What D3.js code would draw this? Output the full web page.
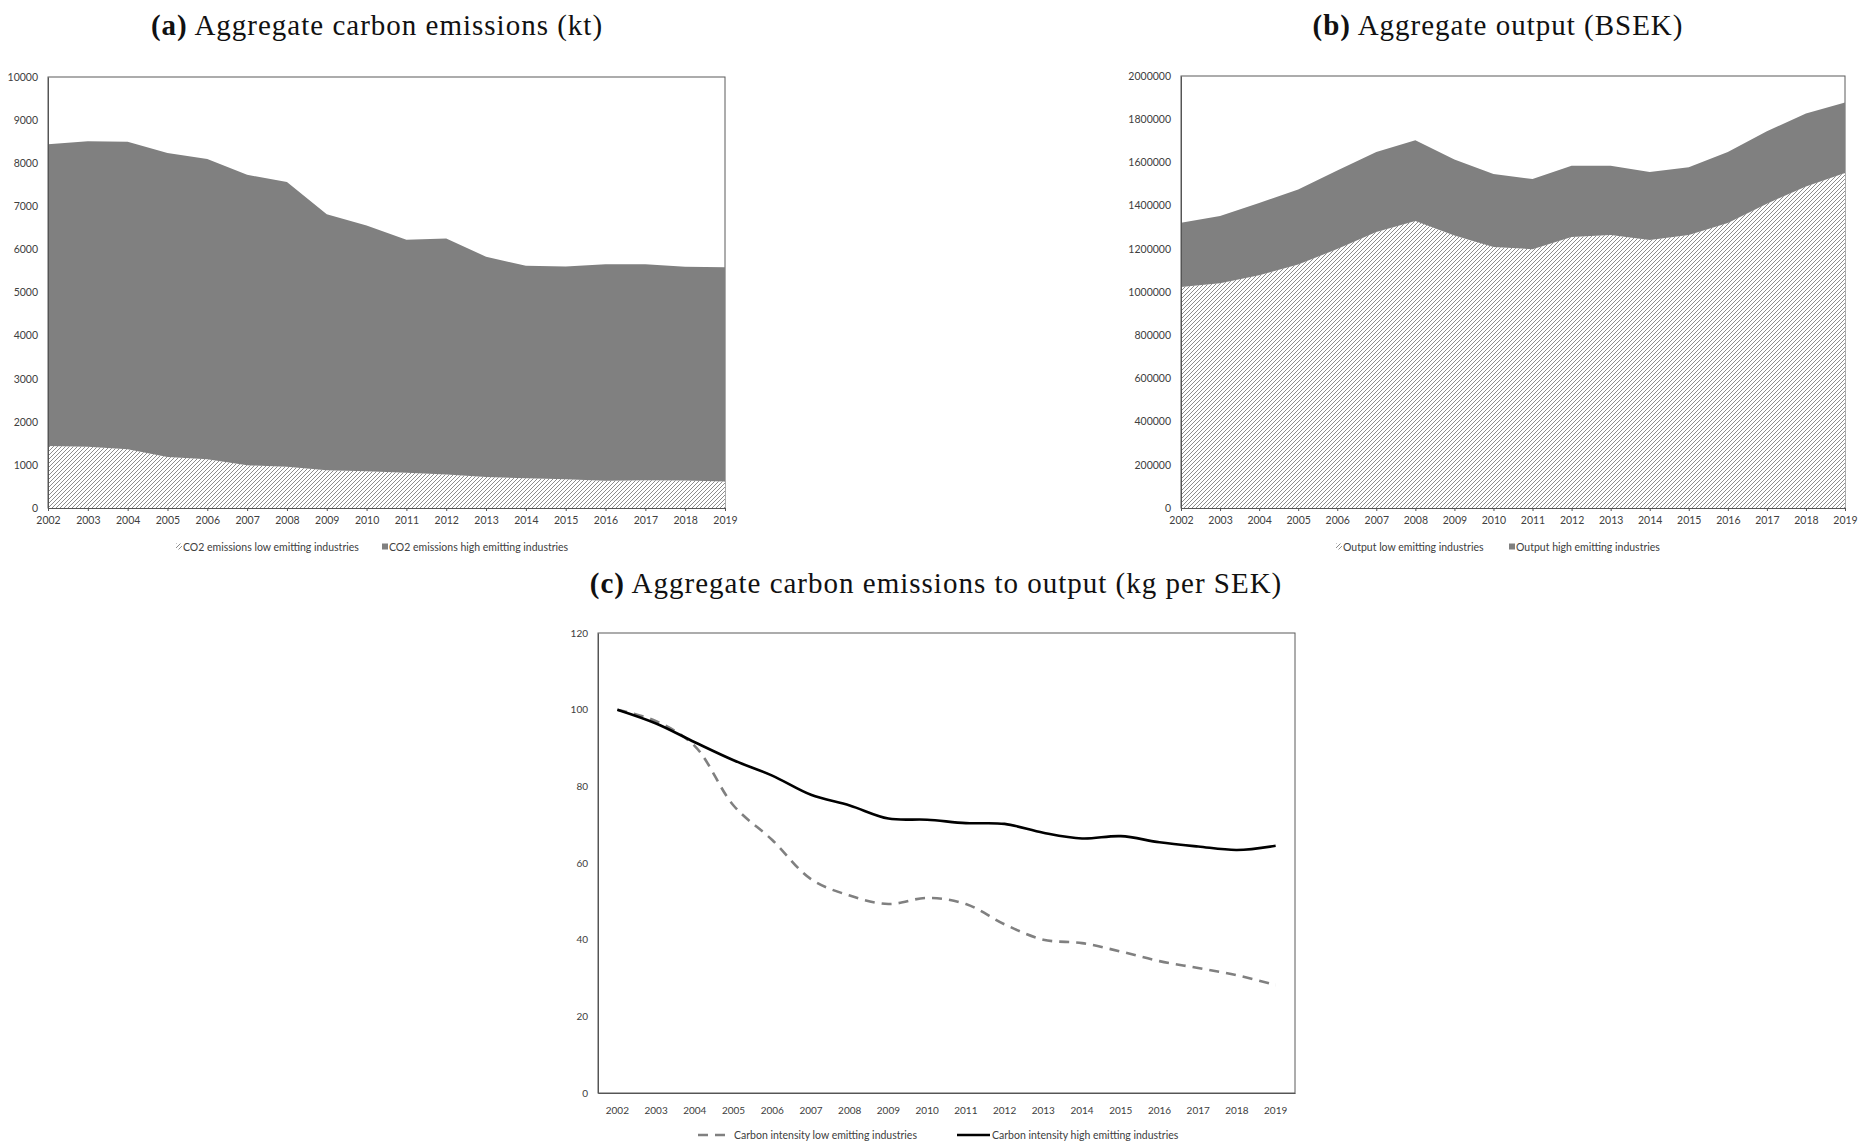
<!DOCTYPE html>
<html>
<head>
<meta charset="utf-8">
<script src="https://cdn.jsdelivr.net/npm/d3@7"></script>
<style>
  body { margin: 0; background: #fff; }
  .tick text { font-family: Lato, "Open Sans", sans-serif; fill: #404040; }
  .title { font-family: "Liberation Serif", serif; fill: #111; }
  .legend { font-family: Lato, "Open Sans", sans-serif; font-size: 10.5px; fill: #404040; }
</style>
</head>
<body>
<svg id="fig" width="1865" height="1145"></svg>
<script>
// years shared by all three panels
const years = [2002, 2003, 2004, 2005, 2006, 2007, 2008, 2009, 2010,
               2011, 2012, 2013, 2014, 2015, 2016, 2017, 2018, 2019];

// (a) CO2 emissions, kt
const co2Low  = [1440, 1420, 1365, 1185, 1130, 990, 955, 875, 855, 815, 775, 720, 690, 665, 635, 645, 640, 615];
const co2High = [7000, 7090, 7130, 7050, 6970, 6740, 6610, 5940, 5700, 5410, 5480, 5110, 4930, 4940, 5020, 5010, 4960, 4970];
const co2Ticks = [0, 1000, 2000, 3000, 4000, 5000, 6000, 7000, 8000, 9000, 10000];

// (b) output, BSEK
const outLow  = [1023000, 1040000, 1077000, 1127000, 1199000, 1278000, 1329000, 1262000, 1208000,
                 1198000, 1255000, 1264000, 1241000, 1264000, 1319000, 1409000, 1489000, 1551000];
const outHigh = [298000, 312000, 335000, 347000, 364000, 370000, 373000, 351000, 338000,
                 325000, 330000, 321000, 315000, 313000, 329000, 335000, 337000, 326000];
const outTicks = [0, 200000, 400000, 600000, 800000, 1000000, 1200000, 1400000, 1600000, 1800000, 2000000];

// (c) carbon intensity index
const intLow  = [100, 97.0, 90.5, 75.0, 66.0, 55.8, 51.5, 49.3, 50.9, 49.3, 44.0, 40.0, 39.1, 36.9, 34.4, 32.6, 30.7, 28.2];
const intHigh = [100, 96.4, 91.5, 86.8, 82.8, 77.8, 75.0, 71.6, 71.3, 70.4, 70.2, 67.9, 66.4, 67.0, 65.4, 64.3, 63.4, 64.5];
const intTicks = [0, 20, 40, 60, 80, 100, 120];

const svg = d3.select("#fig");

// hatch pattern for the low emitting series
const defs = svg.append("defs");
const pat = defs.append("pattern")
    .attr("id", "hatch")
    .attr("patternUnits", "userSpaceOnUse")
    .attr("width", 4).attr("height", 4);
pat.append("rect").attr("width", 4).attr("height", 4).attr("fill", "#fff");
pat.append("path")
    .attr("d", "M-1,1 l2,-2 M0,4 l4,-4 M3,5 l2,-2")
    .attr("stroke", "#707070").attr("stroke-width", 0.8);

function title(x, y, letter, text) {
  const t = svg.append("text").attr("class", "title")
      .attr("x", x).attr("y", y)
      .attr("text-anchor", "middle")
      .style("font-size", "29px")
      .style("letter-spacing", "1px");
  t.append("tspan").attr("font-weight", "bold").text("(" + letter + ")");
  t.append("tspan").text(" " + text);
}

function stackedPanel(box, low, high, ticks, yMax, legendNames, legendX) {
  const x = d3.scalePoint().domain(years).range([box.left, box.right]);
  const y = d3.scaleLinear().domain([0, yMax]).range([box.bottom, box.top]);

  const rows = years.map((yr, i) => ({ year: yr, low: low[i], high: high[i] }));
  const series = d3.stack().keys(["low", "high"])(rows);

  const area = d3.area()
      .x(d => x(d.data.year))
      .y0(d => y(d[0]))
      .y1(d => y(d[1]));

  const g = svg.append("g");

  g.append("rect")
      .attr("x", box.left).attr("y", box.top)
      .attr("width", box.right - box.left).attr("height", box.bottom - box.top)
      .attr("fill", "none").attr("stroke", "#5a5a5a").attr("stroke-width", 1);

  g.selectAll("path.area").data(series).enter()
      .append("path")
      .attr("class", "area")
      .attr("d", area)
      .attr("fill", (d, i) => i === 0 ? "url(#hatch)" : "#808080");

  g.append("g")
      .attr("transform", `translate(0,${box.bottom})`)
      .call(d3.axisBottom(x).tickSize(3).tickPadding(6))
      .call(a => a.selectAll("line, path").attr("stroke", "#555"))
      .call(a => a.selectAll("text").style("font-size", "10.5px"));

  g.append("g")
      .attr("transform", `translate(${box.left},0)`)
      .call(d3.axisLeft(y).tickValues(ticks).tickSize(0).tickPadding(10).tickFormat(d3.format("d")))
      .call(a => a.select(".domain").attr("stroke", "#555"))
      .call(a => a.selectAll("text").style("font-size", "10.5px"));

  // legend
  const ly = 547;
  g.append("rect").attr("x", legendX[0]).attr("y", ly - 3.5).attr("width", 6).attr("height", 6)
      .attr("fill", "url(#hatch)");
  g.append("text").attr("class", "legend").attr("x", legendX[0] + 7).attr("y", ly)
      .attr("dy", "0.35em").text(legendNames[0]);
  g.append("rect").attr("x", legendX[1]).attr("y", ly - 3.5).attr("width", 6).attr("height", 6)
      .attr("fill", "#808080");
  g.append("text").attr("class", "legend").attr("x", legendX[1] + 7).attr("y", ly)
      .attr("dy", "0.35em").text(legendNames[1]);
}

title(377, 35, "a", "Aggregate carbon emissions (kt)");
title(1498, 35, "b", "Aggregate output (BSEK)");
title(936, 593, "c", "Aggregate carbon emissions to output (kg per SEK)");

stackedPanel({ left: 48, right: 725, top: 77, bottom: 508 },
    co2Low, co2High, co2Ticks, 10000,
    ["CO2 emissions low emitting industries", "CO2 emissions high emitting industries"],
    [176, 382]);

stackedPanel({ left: 1181, right: 1845, top: 76, bottom: 508 },
    outLow, outHigh, outTicks, 2000000,
    ["Output low emitting industries", "Output high emitting industries"],
    [1336, 1509]);

// (c) line chart
{
  const box = { left: 598, right: 1295, top: 633, bottom: 1093 };
  const x = d3.scaleBand().domain(years).range([box.left, box.right]);
  const y = d3.scaleLinear().domain([0, 120]).range([box.bottom, box.top]);
  const cx = d => x(d) + x.bandwidth() / 2;

  const g = svg.append("g");

  g.append("rect")
      .attr("x", box.left).attr("y", box.top)
      .attr("width", box.right - box.left).attr("height", box.bottom - box.top)
      .attr("fill", "none").attr("stroke", "#5a5a5a").attr("stroke-width", 1);

  g.append("g")
      .attr("transform", `translate(0,${box.bottom})`)
      .call(d3.axisBottom(x).tickSize(0).tickPadding(14))
      .call(a => a.select(".domain").attr("stroke", "#555"))
      .call(a => a.selectAll("text").style("font-size", "10px"));

  g.append("g")
      .attr("transform", `translate(${box.left},0)`)
      .call(d3.axisLeft(y).tickValues(intTicks).tickSize(0).tickPadding(10))
      .call(a => a.select(".domain").attr("stroke", "#555"))
      .call(a => a.selectAll("text").style("font-size", "10px"));

  const line = d3.line()
      .x((d, i) => cx(years[i]))
      .y(d => y(d))
      .curve(d3.curveCatmullRom.alpha(0.5));

  g.append("path").datum(intLow)
      .attr("d", line)
      .attr("fill", "none").attr("stroke", "#808080")
      .attr("stroke-width", 2.6).attr("stroke-dasharray", "10,7");

  g.append("path").datum(intHigh)
      .attr("d", line)
      .attr("fill", "none").attr("stroke", "#000")
      .attr("stroke-width", 2.6);

  const ly = 1135;
  g.append("line").attr("x1", 698).attr("x2", 727).attr("y1", ly).attr("y2", ly)
      .attr("stroke", "#808080").attr("stroke-width", 2.6).attr("stroke-dasharray", "10,7");
  g.append("text").attr("class", "legend").attr("x", 734).attr("y", ly)
      .attr("dy", "0.35em").text("Carbon intensity low emitting industries");
  g.append("line").attr("x1", 957).attr("x2", 990).attr("y1", ly).attr("y2", ly)
      .attr("stroke", "#000").attr("stroke-width", 2.6);
  g.append("text").attr("class", "legend").attr("x", 992).attr("y", ly)
      .attr("dy", "0.35em").text("Carbon intensity high emitting industries");
}
</script>
</body>
</html>
